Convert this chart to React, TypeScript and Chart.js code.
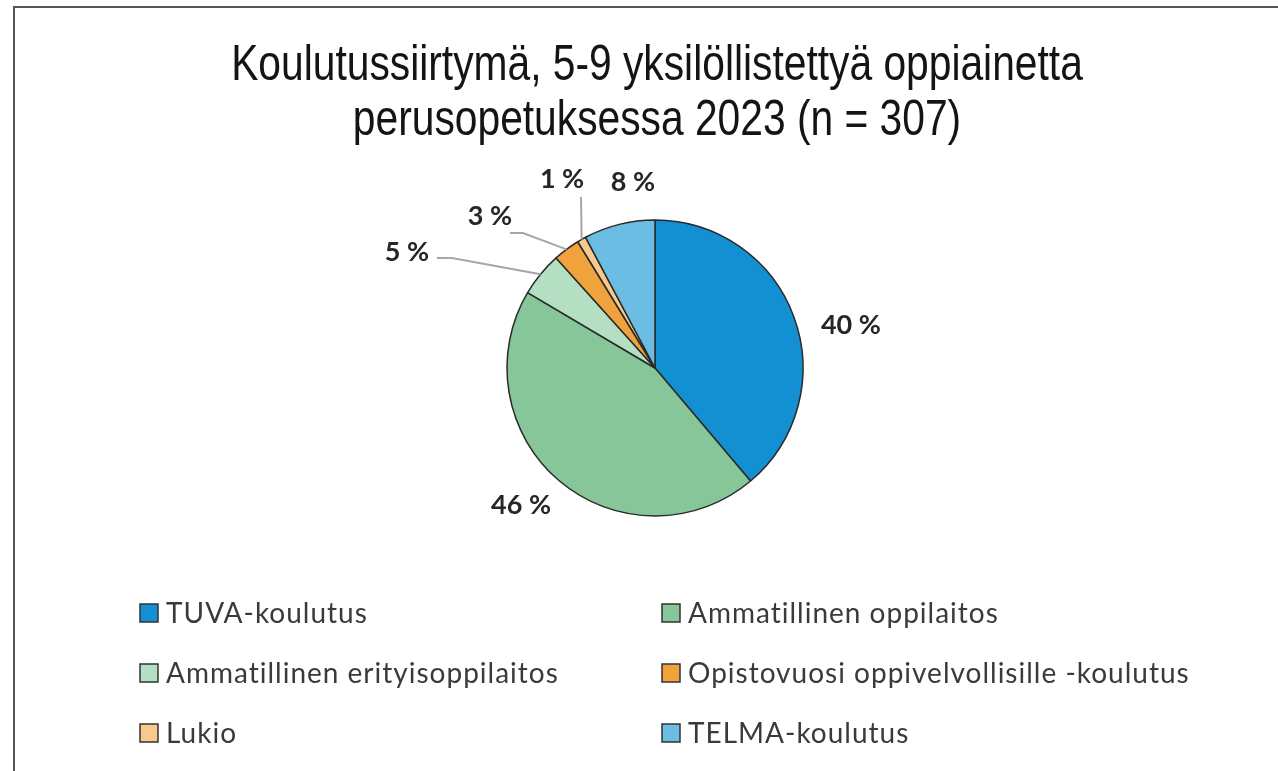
import { useEffect, useRef } from "react";
import { Chart, registerables } from "chart.js";

Chart.register(...registerables);

// ---- data ----
const titleLines = [
  "Koulutussiirtymä, 5-9 yksilöllistettyä oppiainetta",
  "perusopetuksessa 2023 (n = 307)",
];
const categories = [
  "TUVA-koulutus",
  "Ammatillinen oppilaitos",
  "Ammatillinen erityisoppilaitos",
  "Opistovuosi oppivelvollisille -koulutus",
  "Lukio",
  "TELMA-koulutus",
];
const percentages = [40, 46, 5, 3, 1, 8];

// ---- styles ----
const sliceColors = ["#1290D1", "#86C699", "#B5DFC3", "#F0A23D", "#F8C98B", "#6BBDE3"];
// label placement relative to pie centre, in units of the pie radius
const labelOffsets = [
  [1.324, -0.291],
  [-0.905, 0.926],
  [-1.676, -0.784],
  [-1.115, -1.027],
  [-0.628, -1.277],
  [-0.149, -1.257],
];
// leader-line elbow (in radius units) and horizontal tail length in px
const leaderElbows: (number[] | null)[] = [null, null, [-1.372, -0.743], [-0.892, -0.912], [-0.5, -1.155], null];
const leaderTails = [0, 0, 15, 13, 0, 0];

const labelPlugin = {
  id: "pieLabels",
  afterDatasetsDraw(chart: any) {
    const ctx = chart.ctx;
    const meta = chart.getDatasetMeta(0);
    const values = chart.data.datasets[0].data as number[];
    meta.data.forEach((arc: any, i: number) => {
      const p = arc.getProps(["x", "y", "startAngle", "endAngle", "outerRadius"], true);
      const mid = (p.startAngle + p.endAngle) / 2;
      const R = p.outerRadius;
      const elbow = leaderElbows[i];
      if (elbow) {
        const ex = p.x + Math.cos(mid) * R;
        const ey = p.y + Math.sin(mid) * R;
        const bx = p.x + elbow[0] * R;
        const by = p.y + elbow[1] * R;
        ctx.save();
        ctx.strokeStyle = "#A6A6A6";
        ctx.lineWidth = 2;
        ctx.beginPath();
        ctx.moveTo(ex, ey);
        ctx.lineTo(bx, by);
        if (leaderTails[i]) ctx.lineTo(bx - leaderTails[i], by);
        ctx.stroke();
        ctx.restore();
      }
      const lx = p.x + labelOffsets[i][0] * R;
      const ly = p.y + labelOffsets[i][1] * R;
      ctx.save();
      ctx.font = 'bold 27px Lato';
      ctx.fillStyle = "#262626";
      ctx.textAlign = "center";
      ctx.textBaseline = "middle";
      ctx.fillText(`${values[i]} %`, lx, ly);
      ctx.restore();
    });
  },
};

const titlePlugin = {
  id: "narrowTitle",
  afterDraw(chart: any) {
    const ctx = chart.ctx;
    ctx.save();
    ctx.font = '50px "Liberation Sans"';
    ctx.fillStyle = "#141414";
    ctx.textAlign = "center";
    ctx.textBaseline = "alphabetic";
    titleLines.forEach((line, i) => {
      ctx.save();
      ctx.translate(657, 80 + i * 55);
      ctx.scale(0.815, 1);
      ctx.fillText(line, 0, 0);
      ctx.restore();
    });
    ctx.restore();
  },
};

const legendPlugin = {
  id: "gridLegend",
  afterDraw(chart: any) {
    const ctx = chart.ctx;
    const labels = chart.data.labels as string[];
    const colors = chart.data.datasets[0].backgroundColor as string[];
    const colX = [140, 662];
    const top = 604;
    const rowH = 60;
    const box = 18;
    ctx.save();
    labels.forEach((label, i) => {
      const x = colX[i % 2];
      const y = top + Math.floor(i / 2) * rowH;
      ctx.fillStyle = colors[i];
      ctx.fillRect(x, y, box, box);
      ctx.strokeStyle = "#333";
      ctx.lineWidth = 1.5;
      ctx.strokeRect(x, y, box, box);
      ctx.font = '28px Lato';
      (ctx as any).letterSpacing = "1px";
      ctx.fillStyle = "#3a3a3a";
      ctx.textAlign = "left";
      ctx.textBaseline = "alphabetic";
      ctx.fillText(label, x + 26, y + box + 1);
    });
    ctx.restore();
  },
};

export default function App() {
  const ref = useRef<HTMLCanvasElement | null>(null);
  useEffect(() => {
    if (!ref.current) return;
    const chart = new Chart(ref.current, {
      type: "pie",
      data: {
        labels: categories,
        datasets: [
          {
            data: percentages,
            backgroundColor: sliceColors,
            borderColor: "#2a2a2a",
            borderWidth: 1.5,
          },
        ],
      },
      options: {
        responsive: false,
        animation: false,
        devicePixelRatio: 1,
        radius: 148,
        layout: { padding: { left: 32, right: 0, top: 200, bottom: 235 } },
        plugins: {
          legend: { display: false },
          title: { display: false },
          tooltip: { enabled: false },
        },
      } as any,
      plugins: [labelPlugin, titlePlugin, legendPlugin],
    });
    return () => chart.destroy();
  }, []);

  return (
    <div style={{ position: "absolute", left: 0, top: 0, width: 1278, height: 771, background: "#fff" }}>
      <div
        style={{
          position: "absolute",
          left: 13,
          top: 6,
          width: 1265,
          height: 765,
          borderLeft: "2px solid #555",
          borderTop: "2px solid #555",
          boxSizing: "border-box",
        }}
      />
      <canvas ref={ref} width={1278} height={771} style={{ position: "absolute", left: 0, top: 0 }} />
    </div>
  );
}
